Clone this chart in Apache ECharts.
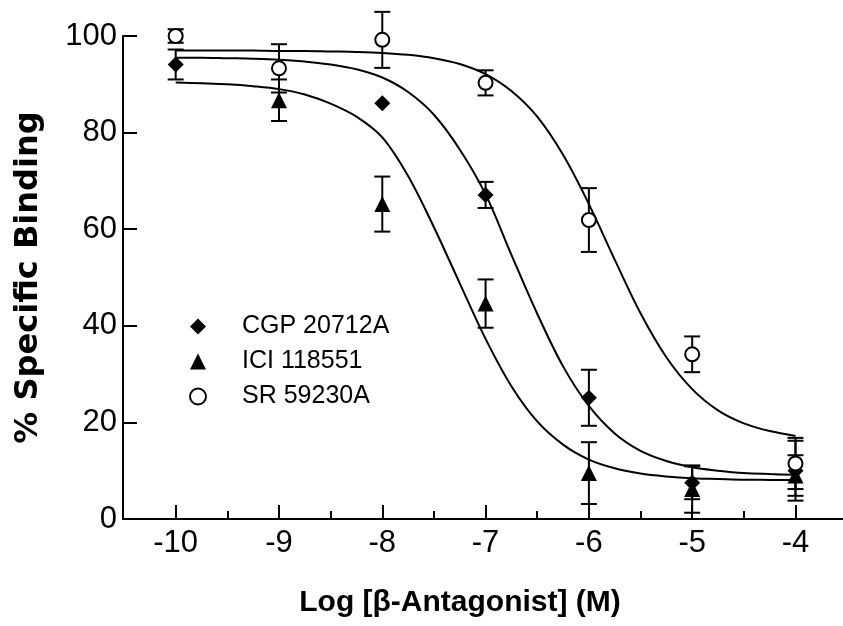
<!DOCTYPE html>
<html><head><meta charset="utf-8">
<script src="https://cdn.jsdelivr.net/npm/echarts@6/dist/echarts.min.js"></script>
<style>html,body{margin:0;padding:0;background:#fff}#c{width:843px;height:626px}</style>
</head><body><div id="c"></div>
<script>
// Doses (log M)
const doses = [-10, -9, -8, -7, -6, -5, -4];
const majorTicks = [-10, -9, -8, -7, -6, -5, -4];
const minorTicks = [-9.5, -8.5, -7.5, -6.5, -5.5, -4.5];
const yTicks = [0, 20, 40, 60, 80, 100];

// Mean % specific binding and SEM per dose (null = not shown)
const cgpMean = [94.1, null, 86.1, 67.1, 25.1, 7.5, 10.0];
const cgpErr  = [3.1, null, null, 2.7, 5.8, 3.4, 6.2];
const iciMean = [null, 86.7, 65.2, 44.6, 9.5, 6.2, 9.0];
const iciErr  = [null, 4.3, 5.7, 5.0, 6.4, 4.9, 4.2];
const srMean  = [100.0, 93.3, 99.2, 90.3, 61.9, 34.1, 11.5];
const srErr   = [1.4, 5.0, 5.8, 2.6, 6.6, 3.7, 5.3];

// Fitted curves
const curveX   = [-10, -9.75, -9.5, -9.25, -9, -8.75, -8.5, -8.25, -8, -7.75, -7.5, -7.25, -7, -6.75, -6.5, -6.25, -6, -5.75, -5.5, -5.25, -5, -4.75, -4.5, -4.25, -4];
const iciCurve = [90.35, 90.2, 90.0, 89.6, 89.0, 87.9, 86.0, 83.3, 79.0, 71.0, 60.4, 48.8, 37.3, 27.5, 20.2, 15.4, 12.3, 10.5, 9.4, 8.8, 8.45, 8.3, 8.15, 8.1, 8.05];
const cgpCurve = [95.5, 95.5, 95.4, 95.3, 95.1, 94.7, 94.1, 93.1, 91.4, 88.4, 83.7, 76.5, 67.2, 54.7, 42.5, 31.6, 23.4, 17.7, 14.1, 12.0, 10.7, 10.0, 9.5, 9.3, 9.15];
const srCurve  = [97.0, 97.0, 97.0, 97.0, 96.9, 96.9, 96.8, 96.7, 96.5, 96.1, 95.4, 94.2, 92.1, 88.6, 83.3, 75.4, 65.2, 53.7, 42.6, 33.5, 26.9, 22.5, 19.8, 18.2, 17.2];

const names = ['CGP 20712A', 'ICI 118551', 'SR 59230A'];
const FONT = "'Liberation Sans', Arial, sans-serif";

function pts(mean) { return doses.map((x, i) => mean[i] == null ? null : [x, mean[i]]).filter(Boolean); }
function errs(mean, err) { return doses.map((x, i) => (mean[i] == null || err[i] == null) ? null : [x, mean[i] - err[i], mean[i] + err[i]]).filter(Boolean); }
function curve(vals) { return curveX.map((x, i) => [x, vals[i]]); }

function errRender(params, api) {
  const x = api.value(0), lo = api.value(1), hi = api.value(2);
  const a = api.coord([x, hi]), b = api.coord([x, lo]);
  const w = 8;
  const st = { stroke: '#000', lineWidth: 2 };
  return { type: 'group', children: [
    { type: 'line', shape: { x1: a[0], y1: a[1], x2: b[0], y2: b[1] }, style: st },
    { type: 'line', shape: { x1: a[0] - w, y1: a[1], x2: a[0] + w, y2: a[1] }, style: st },
    { type: 'line', shape: { x1: b[0] - w, y1: b[1], x2: b[0] + w, y2: b[1] }, style: st }
  ]};
}

const chart = echarts.init(document.getElementById('c'), null, { renderer: 'canvas' });
const lineSeries = (vals) => ({ type: 'line', data: curve(vals), showSymbol: false, symbol: 'none', smooth: 0.35, lineStyle: { color: '#000', width: 2 }, z: 1, silent: true });
const errSeries = (m, e) => ({ type: 'custom', data: errs(m, e), renderItem: errRender, encode: { x: 0, y: [1, 2] }, z: 2, silent: true });

chart.setOption({
  animation: false,
  textStyle: { fontFamily: FONT },
  grid: { left: 123, right: 0, top: 36, bottom: 107 },
  legend: {
    data: names, orient: 'vertical', left: 189, top: 314, padding: 0,
    itemWidth: 16, itemHeight: 16, itemGap: 10, selectedMode: false,
    textStyle: { fontSize: 25, color: '#000', fontFamily: FONT, lineHeight: 25, padding: [0, 0, 0, 31] }
  },
  xAxis: [{
    type: 'value', min: -10.51, max: -3.54,
    axisLine: { show: true, onZero: false, lineStyle: { color: '#000', width: 2 } },
    axisTick: { show: true, inside: true, length: 14, lineStyle: { color: '#000', width: 2 }, customValues: majorTicks },
    axisLabel: { customValues: majorTicks, fontSize: 31, color: '#000', margin: 9, fontFamily: FONT },
    splitLine: { show: false },
    name: 'Log [β-Antagonist] (M)', nameLocation: 'middle', nameGap: 69,
    nameTextStyle: { fontSize: 30, fontWeight: 'bold', color: '#000', fontFamily: FONT, padding: [0, 46, 0, 0] }
  }, {
    type: 'value', min: -10.51, max: -3.54, position: 'bottom',
    axisLine: { show: false },
    axisTick: { show: true, inside: true, length: 8, lineStyle: { color: '#000', width: 2 }, customValues: minorTicks },
    axisLabel: { show: false }, splitLine: { show: false }
  }],
  yAxis: {
    type: 'value', min: 0, max: 100, interval: 20,
    axisLine: { show: true, onZero: false, lineStyle: { color: '#000', width: 2 } },
    axisTick: { show: true, inside: true, length: 14, lineStyle: { color: '#000', width: 2 } },
    axisLabel: { fontSize: 31, color: '#000', margin: 6, fontFamily: FONT },
    splitLine: { show: false },
    name: '% Specific Binding', nameLocation: 'middle', nameRotate: 90, nameGap: 78,
    nameTextStyle: { fontSize: 32, fontWeight: 'bold', color: '#000', fontFamily: "'DejaVu Sans', sans-serif" }
  },
  series: [
    lineSeries(iciCurve), lineSeries(cgpCurve), lineSeries(srCurve),
    errSeries(cgpMean, cgpErr), errSeries(iciMean, iciErr), errSeries(srMean, srErr),
    { name: names[0], type: 'scatter', data: pts(cgpMean), symbol: 'diamond', symbolSize: 16, itemStyle: { color: '#000', opacity: 1 }, z: 3 },
    { name: names[1], type: 'scatter', data: pts(iciMean), symbol: 'triangle', symbolSize: 16, itemStyle: { color: '#000', opacity: 1 }, z: 3 },
    { name: names[2], type: 'scatter', data: pts(srMean), symbol: 'circle', symbolSize: 14, itemStyle: { color: '#fff', borderColor: '#000', borderWidth: 2, opacity: 1 }, z: 4 }
  ]
});
</script></body></html>
